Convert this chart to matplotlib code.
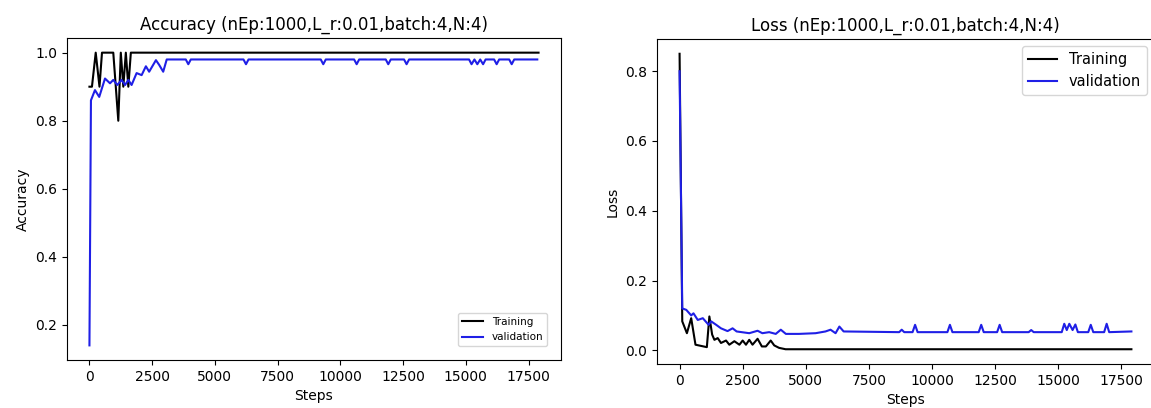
import matplotlib
matplotlib.use("Agg")
import matplotlib.pyplot as plt

TITLE_SUFFIX = "(nEp:1000,L_r:0.01,batch:4,N:4)"

# accuracy curves (steps, value)
acc_train_steps = [0, 100, 250, 400, 500, 950, 1050, 1150, 1250, 1350, 1450, 1550, 1650, 17900]
acc_train = [0.90, 0.90, 1.00, 0.90, 1.00, 1.00, 0.90, 0.80, 1.00, 0.90, 1.00, 0.90, 1.00, 1.00]

acc_val_steps = [0, 60, 220, 390, 620, 820, 950, 1110, 1280, 1420, 1550, 1680, 1880, 2080, 2250,
                 2380, 2650, 2780, 2940, 3080,
                 3840, 3940, 4040, 6140, 6240, 6340, 9220, 9320, 9420,
                 10550, 10650, 10750, 11810, 11910, 12010, 12540, 12640, 12740,
                 15130, 15230, 15345, 15460, 15575, 15690, 15790,
                 16130, 16230, 16330, 16730, 16830, 16930, 17850]
acc_val = [0.14, 0.86, 0.89, 0.87, 0.924, 0.91, 0.92, 0.905, 0.92, 0.905, 0.92, 0.905, 0.94, 0.934, 0.96,
           0.944, 0.978, 0.964, 0.944, 0.98,
           0.98, 0.966, 0.98, 0.98, 0.966, 0.98, 0.98, 0.966, 0.98,
           0.98, 0.966, 0.98, 0.98, 0.966, 0.98, 0.98, 0.966, 0.98,
           0.98, 0.966, 0.98, 0.966, 0.98, 0.966, 0.98,
           0.98, 0.966, 0.98, 0.98, 0.966, 0.98, 0.98]

# loss curves
loss_train_steps = [0, 106, 290, 460, 630, 1080, 1180, 1290, 1380, 1510, 1640, 1840, 1970, 2170,
                    2370, 2500, 2630, 2760, 2890, 3090, 3260, 3420, 3610, 3750, 3940, 4200, 17900]
loss_train = [0.85, 0.083, 0.049, 0.092, 0.016, 0.009, 0.097, 0.045, 0.030, 0.035, 0.021, 0.028, 0.016, 0.026,
              0.016, 0.028, 0.016, 0.030, 0.016, 0.033, 0.011, 0.011, 0.028, 0.014, 0.007, 0.003, 0.003]

loss_val_steps = [0, 106, 264, 460, 550, 720, 920, 1150, 1250, 1450, 1640, 1900, 2100, 2260, 2760,
                  3090, 3280, 3550, 3810, 4010, 4210, 4730, 5390, 5780, 5980, 6180, 6330, 6500,
                  8700, 8800, 8900, 9230, 9330, 9430, 10610, 10710, 10810, 11850, 11950, 12050,
                  12580, 12680, 12780, 13830, 13930, 14030,
                  15140, 15240, 15340, 15440, 15570, 15680, 15780,
                  16190, 16290, 16390, 16820, 16920, 17020, 17900]
loss_val = [0.80, 0.12, 0.116, 0.10, 0.106, 0.087, 0.092, 0.073, 0.083, 0.073, 0.063, 0.055, 0.063, 0.054, 0.049,
            0.056, 0.049, 0.052, 0.047, 0.059, 0.047, 0.047, 0.049, 0.054, 0.059, 0.049, 0.068, 0.054,
            0.052, 0.059, 0.052, 0.052, 0.073, 0.052, 0.052, 0.073, 0.052, 0.052, 0.073, 0.052,
            0.052, 0.073, 0.052, 0.052, 0.058, 0.052,
            0.052, 0.076, 0.058, 0.076, 0.058, 0.074, 0.052,
            0.052, 0.073, 0.052, 0.052, 0.076, 0.052, 0.054]


fig = plt.figure(figsize=(11.51, 4.08), dpi=100)
ax_acc = fig.add_axes([0.0582, 0.1176, 0.4292, 0.7892])
ax_loss = fig.add_axes([0.5708, 0.1078, 0.4318, 0.7966])

ax_acc.plot(acc_train_steps, acc_train, color="k", linewidth=1.5, label="Training")
ax_acc.plot(acc_val_steps, acc_val, color="#1f1fe6", linewidth=1.5, label="validation")
ax_acc.set_title(f"Accuracy {TITLE_SUFFIX}", fontsize=12)
ax_acc.set_xlabel("Steps", fontsize=10)
ax_acc.set_ylabel("Accuracy", fontsize=10)
ax_acc.legend(loc="lower right", fontsize=7.5, borderaxespad=1.3)

ax_loss.plot(loss_train_steps, loss_train, color="k", linewidth=1.5, label="Training")
ax_loss.plot(loss_val_steps, loss_val, color="#1f1fe6", linewidth=1.5, label="validation")
ax_loss.set_title(f"Loss {TITLE_SUFFIX}", fontsize=12)
ax_loss.set_xlabel("Steps", fontsize=10)
ax_loss.set_ylabel("Loss", fontsize=10)
ax_loss.legend(loc="upper right", fontsize=10.5)

for ax in (ax_acc, ax_loss):
    ax.set_xticks([0, 2500, 5000, 7500, 10000, 12500, 15000, 17500])
    ax.tick_params(labelsize=10)

fig.savefig("out.png", dpi=100)
